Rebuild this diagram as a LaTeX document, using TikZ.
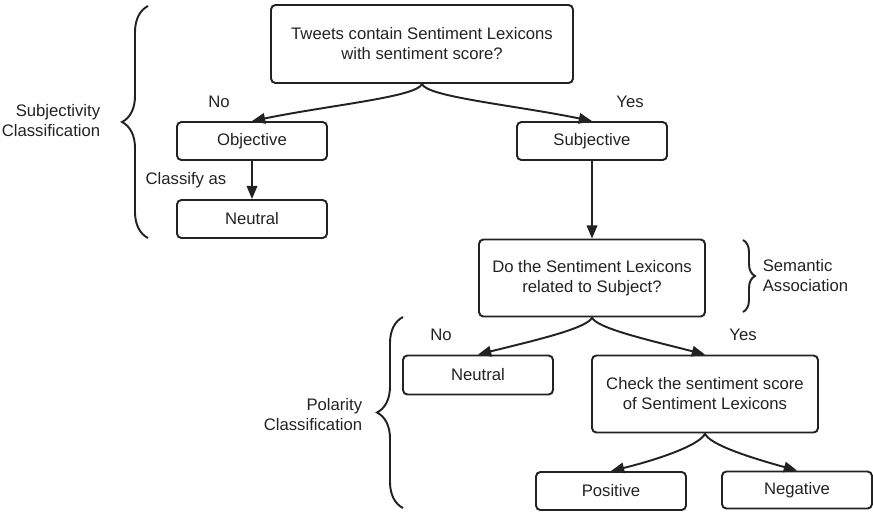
\documentclass[tikz,border=0pt]{standalone}
\usepackage{fontspec}
\setmainfont{Liberation Sans}
\usetikzlibrary{arrows.meta}
\usetikzlibrary{decorations.pathreplacing}
\definecolor{ink}{HTML}{222222}

\begin{document}
\begin{tikzpicture}[x=0.02cm, y=-0.02cm, ink, line width=1.1pt,
    font=\fontsize{9.5}{11.4}\selectfont,
    box/.style={draw, rounded corners=2.5pt, align=center, inner sep=0pt, minimum width=3cm, minimum height=0.76cm},
    bigbox/.style={box, minimum width=4.52cm, minimum height=1.54cm},
    arr/.style={-{Triangle[length=7.5pt, width=6pt]}},
    brc/.style={decorate, decoration={brace, amplitude=#1}}]
    \useasboundingbox (0,0) rectangle (873,512);
    \node[box, minimum width=6.04cm, minimum height=1.56cm] (tweets) at (422,44) {Tweets contain Sentiment Lexicons\\with sentiment score?};
    \node[box] (objective) at (252,141) {Objective};
    \node[box] (neutralA) at (252,219) {Neutral};
    \node[box] (subjective) at (592,141) {Subjective};
    \node[bigbox] (related) at (592,278) {Do the Sentiment Lexicons\\related to Subject?};
    \node[box, minimum height=0.78cm] (neutralB) at (478,375) {Neutral};
    \node[bigbox] (check) at (705,394) {Check the sentiment score\\of Sentiment Lexicons};
    \node[box] (positive) at (611,491) {Positive};
    \node[box, minimum height=0.74cm] (negative) at (797,490) {Negative};

    \draw[arr] (tweets.south) .. controls +(-5,13) and +(78,-16) .. (objective.north);
    \draw[arr] (tweets.south) .. controls +(5,13) and +(-78,-16) .. (subjective.north);
    \draw[arr] (objective) -- (neutralA);
    \draw[arr] (subjective) -- (related);
    \draw[arr] (related.south) .. controls +(-4,11) and +(52,-13) .. (neutralB.north);
    \draw[arr] (related.south) .. controls +(4,11) and +(-50,-13) .. (check.north);
    \draw[arr] (check.south) .. controls +(-4,11) and +(49,-12) .. (positive.north);
    \draw[arr] (check.south) .. controls +(4,11) and +(-47,-13) .. (negative.north);

    \node (noA) at (219,102) {No};
    \node (yesA) at (630,102) {Yes};
    \node (classify) at (186,180) {Classify as};
    \node (noB) at (441,335) {No};
    \node (yesB) at (743,335) {Yes};

    \draw[brc=0.52cm] (148,238) -- (148,6);
    \draw[brc=0.24cm] (743,240) -- (743,312);
    \draw[brc=0.52cm] (403,508) -- (403,317);
    \node[align=right, anchor=east] (subjectivity) at (107,121) {Subjectivity\\Classification};
    \node[align=left, anchor=west] (semantic) at (756,276) {Semantic\\Association};
    \node[align=right, anchor=east] (polarity) at (369,415) {Polarity\\Classification};
\end{tikzpicture}
\end{document}
